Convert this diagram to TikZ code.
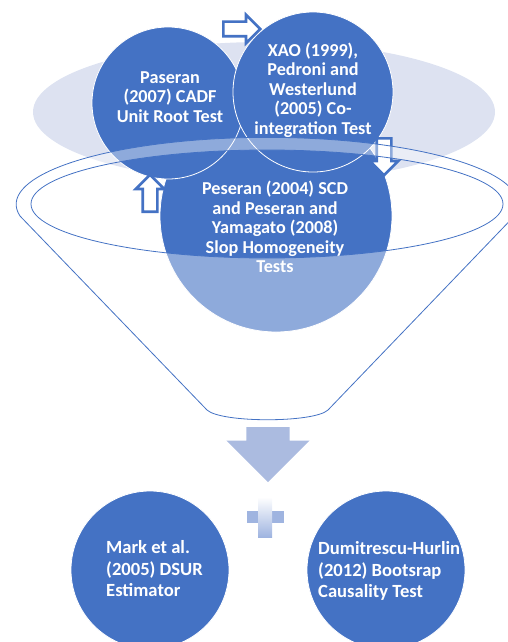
\documentclass[tikz,border=0pt]{standalone}
\usepackage{fontspec}
\setmainfont{Carlito}
\usetikzlibrary{shapes,arrows,shapes.arrows}
\definecolor{ppblue}{HTML}{4472C4}
\definecolor{pplav}{HTML}{DDE2F1}
\definecolor{ppdown}{HTML}{ABBBE0}
\definecolor{ppplus}{HTML}{9FB4E0}
\tikzset{
  testcirc/.style={circle,fill=ppblue,draw=white,line width=0.8pt,inner sep=0pt},
  testtext/.style={text=white,inner sep=0pt,align=center,font=\bfseries\fontsize{18.2}{19.5}\selectfont},
  outtext/.style={text=white,inner sep=0pt,align=left,anchor=west,font=\bfseries\fontsize{18.6}{21.5}\selectfont},
  flowarrow/.style={single arrow,draw=ppblue,line width=2.6pt,fill=white,inner xsep=0pt,inner ysep=6pt,
    minimum height=37pt,minimum width=26pt,single arrow head extend=7pt,anchor=tail},
  bigarrow/.style={single arrow,fill=ppdown,inner xsep=0pt,inner ysep=21.5pt,
    minimum height=55pt,minimum width=83pt,single arrow head extend=20pt,anchor=tail}
}
\begin{document}
\begin{tikzpicture}[x=1pt,y=1pt,yscale=-1]
  \useasboundingbox (0,0) rectangle (508,642);
  \clip (0,0) rectangle (508,642);
  \fill[pplav] (264,112) ellipse[x radius=231pt,y radius=70pt];
  \node[testcirc,minimum size=232pt] (scd) at (276,216) {};
  \node[testcirc,minimum size=152pt] (cadf) at (168,103) {};
  \node[testcirc,minimum size=160pt] (coint) at (313,92) {};
  \node[flowarrow] (toright) at (222,29) {};
  \node[flowarrow,rotate=-90] (todown) at (384,137) {};
  \node[flowarrow,rotate=90] (toup) at (150,213) {};
  \path[draw=ppblue,line width=0.8pt,fill=white,fill opacity=0.4,even odd rule]
    (20,216) arc[start angle=170,end angle=370,x radius=251pt,y radius=67pt]
    -- (328,410) .. controls (314,423) and (221,423) .. (207,410) -- cycle
    (267,204) ellipse[x radius=236pt,y radius=54pt];
  \node[bigarrow,rotate=-90] (result) at (268,427) {};
  \fill[ppplus] (247,511) rectangle (284,523);
  \shade[top color=white,bottom color=ppplus] (258,497) rectangle (272,537);
  \node[testcirc,minimum size=158pt] (dsur) at (150,570) {};
  \node[testcirc,minimum size=158pt] (boot) at (386,570) {};
  \node[testtext] (cadftext) at (170,97) {Paseran\\(2007) CADF\\Unit Root Test};
  \node[testtext] (cointtext) at (313,90) {XAO (1999),\\Pedroni and\\Westerlund\\(2005) Co-\\integration Test};
  \node[testtext] (scdtext) at (275,227) {Peseran (2004) SCD\\and Peseran and\\Yamagato (2008)\\Slop Homogeneity\\Tests};
  \node[outtext] (dsurtext) at (106,569) {Mark et al.\\(2005) DSUR\\Estimator};
  \node[outtext] (boottext) at (318,571) {Dumitrescu-Hurlin\\(2012) Bootsrap\\Causality Test};
\end{tikzpicture}
\end{document}
